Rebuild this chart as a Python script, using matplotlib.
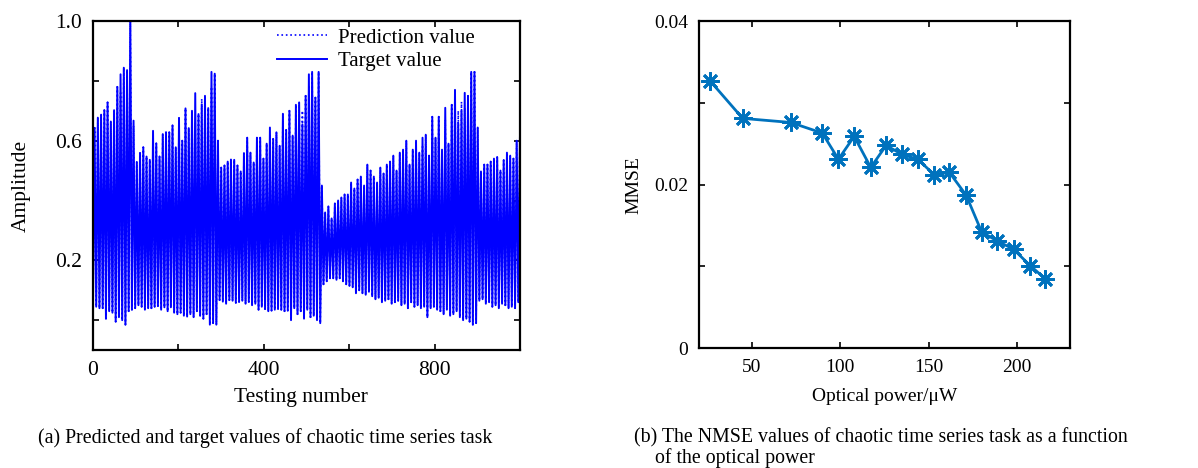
import numpy as np
import matplotlib
matplotlib.use("Agg")
import matplotlib.pyplot as plt

plt.rcParams["font.family"] = ["Liberation Serif", "DejaVu Serif"]

# ---- (a) chaotic time series: one peak and one trough per oscillation cycle
peaks = [
    # rising part up to the spike
    0.643, 0.677, 0.687, 0.702, 0.728, 0.664, 0.702, 0.780, 0.822, 0.844, 0.836, 1.000,
    # second build-up
    0.667, 0.529, 0.559, 0.578, 0.547, 0.536, 0.633, 0.591, 0.547, 0.622, 0.628, 0.628, 0.651,
    0.578, 0.676, 0.600, 0.708, 0.642, 0.700, 0.759, 0.689, 0.720, 0.750, 0.709, 0.830, 0.824,
    # third build-up
    0.600, 0.510, 0.517, 0.530, 0.537, 0.536, 0.517, 0.497, 0.558, 0.610, 0.560, 0.527, 0.610,
    0.610, 0.540, 0.590, 0.644, 0.606, 0.628, 0.583, 0.690, 0.636, 0.700, 0.617, 0.720, 0.728,
    0.655, 0.750, 0.822, 0.830, 0.744, 0.830,
    # after the collapse
    0.450, 0.360, 0.380, 0.340, 0.390, 0.400, 0.410, 0.420, 0.420, 0.460, 0.440, 0.470, 0.480,
    0.450, 0.520, 0.500, 0.480, 0.460, 0.510, 0.490, 0.520, 0.530, 0.550, 0.500, 0.560, 0.570,
    0.600, 0.520, 0.570, 0.600, 0.560, 0.610, 0.620, 0.550, 0.680, 0.610, 0.680, 0.570, 0.710,
    0.590, 0.720, 0.770, 0.660, 0.700, 0.760, 0.750, 0.830, 0.830,
    # tail
    0.644, 0.497, 0.520, 0.520, 0.530, 0.540, 0.545, 0.500, 0.535, 0.560, 0.550, 0.540, 0.600, 0.610,
]
troughs = [
    0.050, 0.045, 0.040, 0.040, 0.005, 0.030, 0.025, -0.005, 0.010, 0.000, -0.015, 0.030,
    0.035, 0.040, 0.050, 0.045, 0.035, 0.040, 0.040, 0.045, 0.047, 0.035, 0.043, 0.030, 0.043,
    0.025, 0.020, 0.025, 0.015, 0.012, 0.020, 0.010, 0.030, 0.015, 0.005, 0.020, -0.015, -0.010,
    -0.015, 0.067, 0.062, 0.055, 0.067, 0.065, 0.058, 0.061, 0.065, 0.055, 0.061, 0.050, 0.055,
    0.035, 0.045, 0.037, 0.030, 0.032, 0.035, 0.037, 0.035, 0.030, 0.032, 0.000, 0.040, 0.020,
    0.030, 0.005, 0.035, 0.010, 0.015, 0.000,
    -0.010, 0.120, 0.130, 0.140, 0.140, 0.135, 0.140, 0.130, 0.120, 0.115, 0.110, 0.090, 0.100,
    0.090, 0.085, 0.095, 0.080, 0.070, 0.075, 0.060, 0.065, 0.070, 0.055, 0.060, 0.065, 0.050,
    0.055, 0.040, 0.060, 0.045, 0.050, 0.040, 0.045, 0.010, 0.040, 0.045, 0.035, 0.030, 0.020,
    0.035, 0.015, 0.020, 0.030, 0.010, 0.000, 0.005, -0.005, -0.015,
    -0.010, 0.065, 0.070, 0.055, 0.060, 0.045, 0.050, 0.040, 0.055, 0.050, 0.040, 0.045, 0.040, 0.060,
]
# cycles where the prediction peak visibly departs from the target
pred_peak_diff = {6: 0.700, 8: 0.760, 12: 0.650, 18: 0.590, 31: 0.660, 33: 0.740,
                  36: 0.780, 54: 0.620, 64: 0.700, 66: 0.780, 101: 0.580,
                  108: 0.670, 112: 0.700, 113: 0.730, 114: 0.710, 127: 0.560}
n_test = 1000

# ---- (b) MMSE vs optical power
power = [26.2, 44.7, 71.9, 89.8, 98.9, 107.8, 117.2, 125.9, 134.8, 143.8,
         153.2, 161.7, 171.2, 180.0, 188.9, 198.0, 207.4, 215.9]
mmse = [0.0327, 0.0281, 0.0276, 0.0263, 0.0231, 0.0259, 0.0221, 0.0248, 0.0237,
        0.0231, 0.0212, 0.0215, 0.0187, 0.0142, 0.0131, 0.0121, 0.0101, 0.0085]

assert len(peaks) == len(troughs)

target = np.ravel(np.column_stack([troughs, peaks]))
pred_peaks = list(peaks)
for k, v in pred_peak_diff.items():
    pred_peaks[k] = v
pred = np.ravel(np.column_stack([troughs, pred_peaks]))
t = np.linspace(0, n_test, len(target))

fig = plt.figure(figsize=(11.98, 4.68), dpi=100)
ax1 = fig.add_axes([0.0776, 0.252, 0.3564, 0.703])
ax2 = fig.add_axes([0.5835, 0.256, 0.3097, 0.699])

blue = "#0000ff"
ax1.plot(t, target, "-", color=blue, lw=1.4, label="Target value")
ax1.plot(t, pred, ":", color=blue, lw=1.2, label="Prediction value")
ax1.set_xlim(0, 1000)
ax1.set_ylim(-0.1, 1.0)
ax1.set_xticks([0, 200, 400, 600, 800, 1000])
ax1.set_xticklabels(["0", "", "400", "", "800", ""])
ax1.set_yticks([0, 0.2, 0.4, 0.6, 0.8, 1.0])
ax1.set_yticklabels(["", "0.2", "", "0.6", "", "1.0"])
h, l = ax1.get_legend_handles_labels()
ax1.legend(h[::-1], l[::-1], loc="upper left", bbox_to_anchor=(0.427, 0.985),
           frameon=False, fontsize=15, handlelength=2.4, handletextpad=0.5,
           labelspacing=0.2, borderpad=0.1, borderaxespad=0)
ax1.set_xlabel("Testing number", fontsize=15.5)
ax1.set_ylabel("Amplitude", fontsize=15.5)
ax1.xaxis.set_label_coords(0.487, -0.115)
ax1.yaxis.set_label_coords(-0.145, 0.5)
ax1.tick_params(labelsize=15.5)

ax2.plot(power, mmse, "-", color="#0072bd", lw=2.0, marker=(8, 2, 0),
         markersize=13, markeredgewidth=2.0)
ax2.set_xlim(20, 230)
ax2.set_ylim(0, 0.04)
ax2.set_xticks([50, 100, 150, 200])
ax2.set_yticks([0, 0.01, 0.02, 0.03, 0.04])
ax2.set_yticklabels(["0", "", "0.02", "", "0.04"])
ax2.set_xlabel("Optical power/\u03bcW", fontsize=14)
ax2.set_ylabel("MMSE", fontsize=14)
ax2.xaxis.set_label_coords(0.5, -0.122)
ax2.yaxis.set_label_coords(-0.154, 0.5)
ax2.tick_params(labelsize=14)

for ax in (ax1, ax2):
    for s in ax.spines.values():
        s.set_linewidth(1.6)
    ax.tick_params(direction="in", top=True, right=True, length=4, width=1.2, pad=8)

fig.text(0.032, 0.064, "(a) Predicted and target values of chaotic time series task",
         fontsize=14.3, va="center", ha="left")
fig.text(0.529, 0.064, "(b) The NMSE values of chaotic time series task as a function",
         fontsize=14.3, va="center", ha="left")
fig.text(0.547, 0.022, "of the optical power", fontsize=14.3, va="center", ha="left")

fig.savefig("out.png", dpi=100)
